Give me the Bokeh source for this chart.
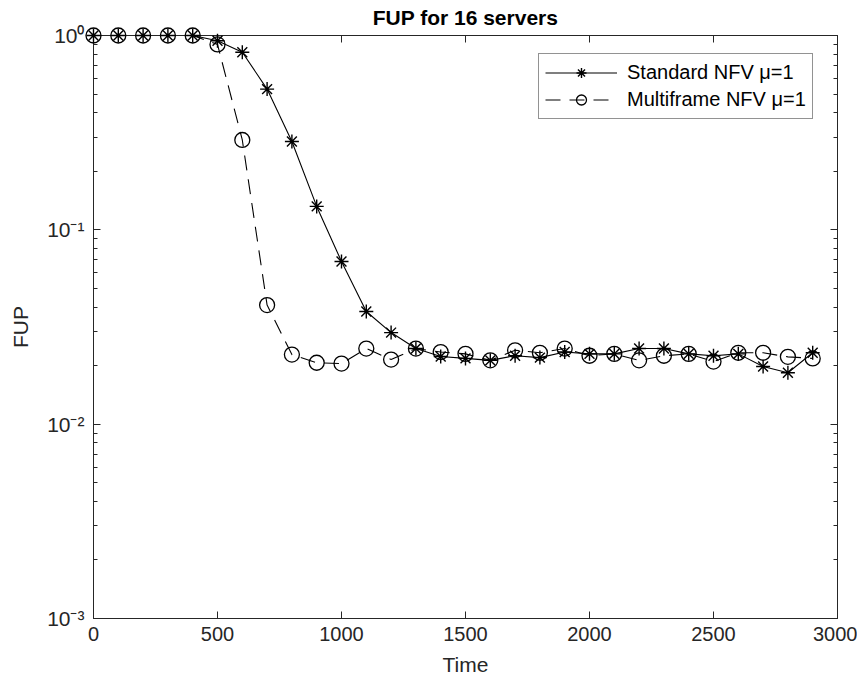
from bokeh.plotting import figure
from bokeh.models import (FixedTicker, LinearAxis, LogAxis, Legend, LegendItem,
                          CustomJSTickFormatter, Range1d)
from bokeh.embed import file_html
from bokeh.resources import INLINE

# ---- data ----
time = [0, 100, 200, 300, 400, 500, 600, 700, 800, 900,
        1000, 1100, 1200, 1300, 1400, 1500, 1600, 1700, 1800, 1900,
        2000, 2100, 2200, 2300, 2400, 2500, 2600, 2700, 2800, 2900]
standard = [1.0, 1.0, 1.0, 1.0, 1.0, 0.94, 0.82, 0.53, 0.285, 0.132,
            0.0687, 0.038, 0.0296, 0.0245, 0.0223, 0.0218, 0.0213, 0.0225, 0.022, 0.0235,
            0.023, 0.023, 0.0245, 0.0245, 0.023, 0.0225, 0.023, 0.0198, 0.0184, 0.0233]
multiframe = [1.0, 1.0, 1.0, 1.0, 1.0, 0.9, 0.29, 0.041, 0.0228, 0.0207,
              0.0205, 0.0245, 0.0215, 0.0245, 0.0235, 0.023, 0.0213, 0.024, 0.0233, 0.0245,
              0.0225, 0.023, 0.0213, 0.0225, 0.023, 0.021, 0.0233, 0.0233, 0.0222, 0.0218]
x_ticks = [0, 500, 1000, 1500, 2000, 2500, 3000]
y_ticks = [1e-3, 1e-2, 1e-1, 1.0]
y_minor = [m * d for d in [1e-3, 1e-2, 1e-1] for m in range(2, 10)]
label_standard = "Standard NFV \u03bc=1"
label_multi = "Multiframe NFV \u03bc=1"

FONT = "Liberation Sans"
AX = "#262626"

p = figure(width=857, height=685, y_axis_type="log",
           x_range=Range1d(0, 3000), y_range=Range1d(1e-3, 1.0),
           output_backend="svg", toolbar_location=None,
           min_border_left=93, min_border_right=20, min_border_top=35, min_border_bottom=67)
p.title.text = "FUP for 16 servers"
p.title.align = "center"
p.title.vertical_align = "top"
p.title.text_font = FONT
p.title.text_font_size = "21px"
p.title.text_font_style = "bold"
p.title.text_color = "black"
p.title.standoff = 10
p.title.offset = 0

p.xgrid.visible = False
p.ygrid.visible = False
p.outline_line_color = AX
p.outline_line_width = 1
p.outline_line_alpha = 1
p.background_fill_color = "white"
p.border_fill_color = "white"

ytick_fmt = CustomJSTickFormatter(code="""
const sup = {"-":"\u207b","0":"\u2070","1":"\u00b9","2":"\u00b2","3":"\u00b3","4":"\u2074",
             "5":"\u2075","6":"\u2076","7":"\u2077","8":"\u2078","9":"\u2079"};
const e = Math.round(Math.log10(tick));
return "10" + String(e).split("").map(c => sup[c]).join("");
""")

def style(ax, labels=True):
    ax.axis_line_color = AX
    ax.major_tick_line_color = AX
    ax.minor_tick_line_color = AX
    ax.major_tick_in = 7
    ax.major_tick_out = 0
    ax.minor_tick_in = 4
    ax.minor_tick_out = 0
    ax.major_label_text_font = FONT
    ax.major_label_text_color = AX
    ax.axis_label_text_font = FONT
    ax.axis_label_text_color = AX
    ax.axis_label_text_font_style = "normal"
    if not labels:
        ax.major_label_text_font_size = "1px"
        ax.major_label_text_alpha = 0
        ax.major_label_standoff = 0

xt = FixedTicker(ticks=x_ticks, minor_ticks=[])
yt = FixedTicker(ticks=y_ticks, minor_ticks=y_minor)

xa = p.xaxis[0]
xa.ticker = xt
style(xa)
xa.major_label_text_font_size = "20px"
xa.major_label_standoff = 8
xa.axis_label = "Time"
xa.axis_label_text_font_size = "21px"
xa.axis_label_standoff = 9

ya = p.yaxis[0]
ya.ticker = yt
ya.formatter = ytick_fmt
style(ya)
ya.major_label_text_font_size = "21px"
ya.major_label_standoff = 9
ya.axis_label = "FUP"
ya.axis_label_text_font_size = "21px"
ya.axis_label_standoff = 12

top = LinearAxis(ticker=FixedTicker(ticks=x_ticks, minor_ticks=[]))
style(top, labels=False)
p.add_layout(top, "above")
right = LogAxis(ticker=FixedTicker(ticks=y_ticks, minor_ticks=y_minor))
style(right, labels=False)
p.add_layout(right, "right")

l1 = p.line(time, standard, line_color="black", line_width=1.1)
s1 = p.scatter(time, standard, marker="asterisk", size=14, line_color="black",
               line_width=1.4, level="overlay")
l2 = p.line(time, multiframe, line_color="black", line_width=1.1, line_dash="15 9")
s2 = p.scatter(time, multiframe, marker="circle", size=15, line_color="black",
               fill_color=None, line_width=1.3, level="overlay")

legend = Legend(items=[LegendItem(label=label_standard, renderers=[l1, s1]),
                       LegendItem(label=label_multi, renderers=[l2, s2])],
                location=(445, 499))
legend.label_text_font = FONT
legend.label_text_font_size = "20px"
legend.label_text_color = "black"
legend.glyph_width = 72
legend.glyph_height = 25
legend.label_height = 25
legend.label_standoff = 10
legend.padding = 6
legend.spacing = 2
legend.margin = 0
legend.border_line_color = AX
legend.border_line_width = 1
legend.background_fill_alpha = 1
p.add_layout(legend, "center")

open("out.html", "w").write(file_html(p, INLINE))
